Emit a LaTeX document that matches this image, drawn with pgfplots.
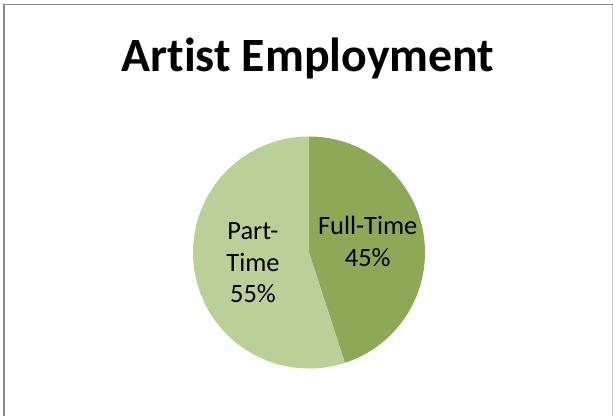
\documentclass[border=0pt]{standalone}
\usepackage{pgfplots}
\pgfplotsset{compat=1.18}
\usepackage{pgfplotstable}
\usetikzlibrary{calc}
\usepackage{fontspec}
\setmainfont[Ligatures=NoCommon]{Carlito}

\definecolor{fulltime}{HTML}{8DA856}
\definecolor{parttime}{HTML}{BBCF98}
\definecolor{framegray}{HTML}{8A8A8A}

% share of artists by employment type (percent)
\pgfplotstableread{
label     value
Full-Time 45
Part-Time 55
}\employment

\pgfplotstablegetelem{0}{value}\of\employment
\let\vfull\pgfplotsretval
\pgfplotstablegetelem{1}{value}\of\employment
\let\vpart\pgfplotsretval

\begin{document}
\begin{tikzpicture}
\begin{axis}[
  at={(0,0)}, anchor=south west,
  scale only axis,
  width=613bp, height=416bp,
  xmin=0, xmax=613, ymin=0, ymax=416,
  hide axis,
  clip=false,
]
  % slices run clockwise from twelve o'clock; 1 axis unit = 1bp
  \pgfmathsetmacro{\endfull}{90-3.6*\vfull}
  \fill[fulltime] (axis cs:309,163.5) -- (axis cs:309,279.5)
    arc[start angle=90, end angle=\endfull, radius=116bp] -- cycle;
  \fill[parttime] (axis cs:309,163.5) -- ($(axis cs:309,163.5)+(\endfull:116bp)$)
    arc[start angle=\endfull, end angle=-270, radius=116bp] -- cycle;

  % title
  \node[anchor=base, font=\fontsize{48}{52}\selectfont\bfseries]
    at (axis cs:308,344.5) {Artist Employment};

  % slice labels
  \tikzset{slicelabel/.style={anchor=base, font=\fontsize{26.5}{32}\selectfont}}
  \node[slicelabel] at (axis cs:367.7,181.7) {Full-Time};
  \node[slicelabel] at (axis cs:367.7,149.3) {\vfull\%};
  \node[slicelabel] at (axis cs:253,176) {Part-};
  \node[slicelabel] at (axis cs:253,144.3) {Time};
  \node[slicelabel] at (axis cs:253,113.7) {\vpart\%};

  % chart frame
  \draw[framegray, line width=2bp] (axis cs:4,-5) -- (axis cs:4,411.3);
  \draw[framegray, line width=1.2bp] (axis cs:3,411.3) -- (axis cs:612.5,411.3);
  \draw[framegray!50, line width=1bp] (axis cs:612.5,411.3) -- (axis cs:612.5,-5);
\end{axis}
\pgfresetboundingbox
\path (0,0) rectangle (613bp,416bp);
\end{tikzpicture}
\end{document}
